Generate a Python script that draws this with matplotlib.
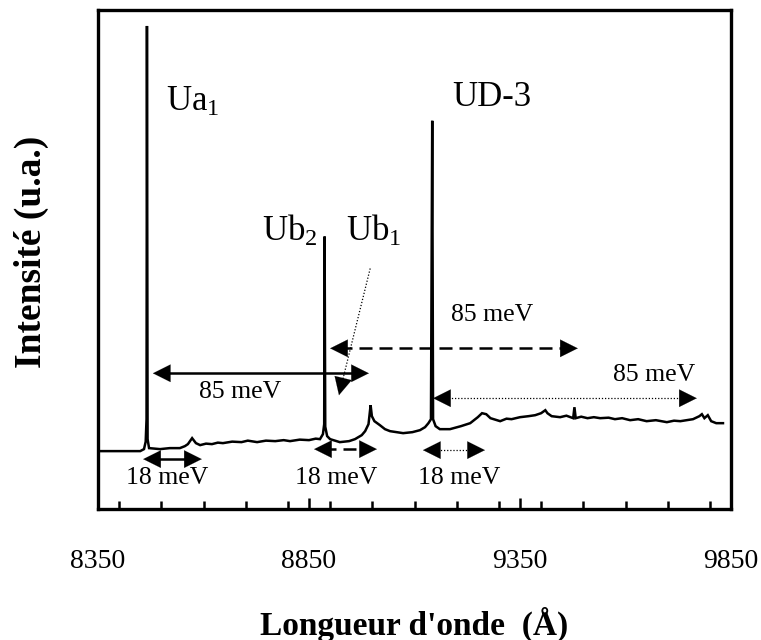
import matplotlib
matplotlib.use("Agg")
import matplotlib.pyplot as plt
from matplotlib.ticker import MultipleLocator

plt.rcParams["font.family"] = ["Liberation Serif", "DejaVu Serif"]
plt.rcParams["mathtext.fontset"] = "custom"
plt.rcParams["mathtext.rm"] = "Liberation Serif"
plt.rcParams["mathtext.it"] = "Liberation Serif:italic"

# spectrum (wavelength in Å, intensity in arbitrary units)
wavelength = [8350, 8450, 8459, 8463, 8465, 8466, 8467.5, 8471, 8497, 8520,
              8544, 8556, 8563, 8573, 8582, 8592, 8606, 8620, 8634, 8646,
              8668, 8690, 8705, 8727, 8748, 8770, 8790, 8805, 8828, 8850,
              8866, 8876, 8883, 8886, 8887, 8888.5, 8893, 8900, 8923,
              8945, 8959, 8975, 8983, 8991, 8996, 8999, 9005, 9018, 9030,
              9042, 9073, 9095, 9113, 9125, 9133, 9139, 9142, 9144, 9150,
              9160, 9184, 9210, 9232, 9250, 9260, 9270, 9280, 9303, 9318,
              9330, 9350, 9370, 9386, 9400, 9410, 9415, 9425, 9445, 9460,
              9476, 9479, 9482, 9495, 9510, 9525, 9540, 9560, 9575, 9592,
              9611, 9630, 9650, 9672, 9698, 9715, 9730, 9745, 9760, 9775,
              9781, 9787, 9795, 9803, 9815, 9831]
intensity = [11.6, 11.6, 12.0, 13.5, 18.0, 96.8, 14.0, 12.2, 12.0, 12.2,
             12.2, 12.6, 13.0, 14.2, 13.2, 12.8, 13.1, 13.0, 13.3, 13.2,
             13.5, 13.4, 13.7, 13.4, 13.7, 13.6, 13.8, 13.6, 13.9, 13.8,
             14.1, 14.0, 15.0, 17.0, 54.6, 16.5, 14.6, 14.0, 13.4,
             13.6, 14.0, 14.8, 15.6, 17.0, 20.8, 18.6, 17.6, 16.8, 16.0,
             15.6, 15.2, 15.4, 15.8, 16.4, 17.2, 18.0, 77.8, 18.0, 16.6,
             16.0, 16.0, 16.6, 17.2, 18.4, 19.2, 19.0, 18.2, 17.6, 18.1,
             18.0, 18.4, 18.6, 18.8, 19.2, 19.8, 19.2, 18.6, 18.4, 18.7,
             18.2, 20.4, 18.2, 18.5, 18.2, 18.4, 18.2, 18.3, 18.0, 18.2,
             17.8, 18.0, 17.6, 17.8, 17.4, 17.7, 17.6, 17.8, 18.0, 18.6,
             19.0, 18.2, 18.8, 17.6, 17.2, 17.2]

major_ticks = [8350, 8850, 9350, 9850]

# peak labels: (text, wavelength, intensity at baseline)
peak_labels = [(r"Ua$_1$", 8511, 79.8), (r"Ub$_2$", 8739, 53.8),
               (r"Ub$_1$", 8938, 53.8), ("UD-3", 9189, 80.8)]

# energy spacing arrows: (start, end, level, style, label, label_x, label_y)
gaps = [(8457, 8596, 10.0, "solid", "18 meV", 8514, 6.2),
        (8862, 9011, 12.0, "dashed", "18 meV", 8914, 6.2),
        (9120, 9267, 11.8, "dotted", "18 meV", 9205, 6.2),
        (8480, 8992, 27.2, "solid", "85 meV", 8686, 23.4),
        (8900, 9487, 32.2, "dashed", "85 meV", 9284, 38.8),
        (9144, 9769, 22.2, "dotted", "85 meV", 9668, 26.8)]

line_styles = {"solid": ("-", 1.8), "dashed": ((0, (5.2, 2.8)), 1.8),
               "dotted": ((0, (1, 1.5)), 0.9)}

HEAD = "-|>,head_length=0.6,head_width=0.3"


def head(ax, tip, back):
    ax.annotate("", xy=tip, xytext=back,
                arrowprops=dict(arrowstyle=HEAD, mutation_scale=21, lw=0.1,
                                color="black", shrinkA=0, shrinkB=0))


fig = plt.figure(figsize=(7.61, 6.40), dpi=100)
ax = fig.add_axes([98 / 761, 131 / 640, 633 / 761, 499 / 640])

ax.plot(wavelength, intensity, color="black", lw=1.8, solid_joinstyle="miter")

ax.set_xlim(8350, 9850)
ax.set_ylim(0, 100)
ax.set_xticks(major_ticks)
ax.xaxis.set_minor_locator(MultipleLocator(100))
ax.tick_params(axis="x", which="both", direction="in", width=1.8,
               labelsize=20, pad=29, top=False)
ax.tick_params(axis="x", which="major", length=8)
ax.tick_params(axis="x", which="minor", length=6)
ax.set_yticks([])
for s in ax.spines.values():
    s.set_linewidth(2.4)

ax.set_xlabel("Longueur d'onde  (Å)", fontsize=24, fontweight="bold")
ax.xaxis.set_label_coords(0.5, -0.195)
ax.set_ylabel("Intensité (u.a.)", fontsize=27, fontweight="bold")
ax.yaxis.set_label_coords(-0.077, 0.515)

for txt, x, y in peak_labels:
    ax.text(x, y, txt, fontsize=25, ha="left", va="baseline")

for x0, x1, y, style, lab, lx, ly in gaps:
    ls, lw = line_styles[style]
    ax.plot([x0 + 20, x1 - 20], [y, y], color="black", lw=lw, linestyle=ls)
    head(ax, (x0, y), (x0 + 36, y))
    head(ax, (x1, y), (x1 - 36, y))
    ax.text(lx, ly, lab, fontsize=18.5, ha="center", va="center")

# pointer from Ub1 label to its weak line
ls, lw = line_styles["dotted"]
ax.plot([8995, 8925], [48.2, 24.2], color="black", lw=lw, linestyle=ls)
head(ax, (8921, 22.8), (8932, 26.6))

fig.savefig("out.png", dpi=100)
